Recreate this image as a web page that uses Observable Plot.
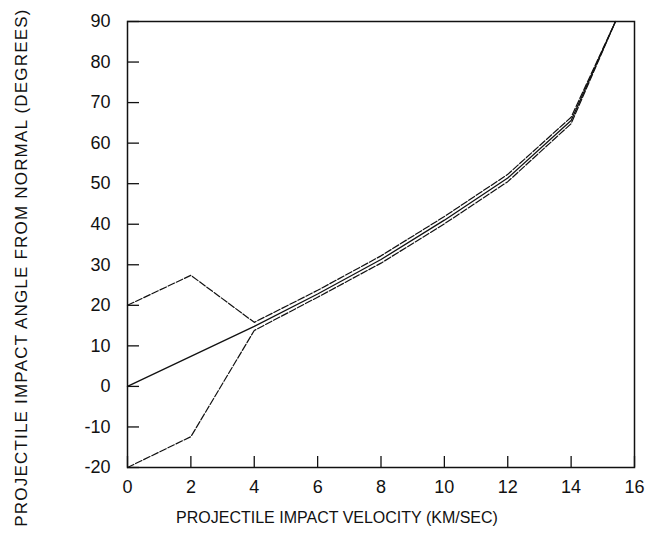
<!DOCTYPE html>
<html><head><meta charset="utf-8">
<script src="https://cdn.jsdelivr.net/npm/d3@7"></script>
<script src="https://cdn.jsdelivr.net/npm/@observablehq/plot@0.6"></script>
<style>html,body{margin:0;padding:0;background:#fff} svg{display:block}</style>
</head><body><div id="chart"></div>
<script>
// Data
const velocity    = [0, 2, 4, 6, 8, 10, 12, 14, 15.4];
const upperAngle  = [20, 27.4, 15.8, 23.7, 32.2, 41.9, 52.3, 66.4, 90];
const middleAngle = [0, 7.4, 14.8, 22.8, 31.3, 41.0, 51.4, 65.6, 90];
const lowerAngle  = [-20, -12.4, 13.8, 22.0, 30.4, 40.1, 50.5, 64.8, 90];
const xTicks = [0, 2, 4, 6, 8, 10, 12, 14, 16];
const yTicks = [-20, -10, 0, 10, 20, 30, 40, 50, 60, 70, 80, 90];
const xTitle = "PROJECTILE IMPACT VELOCITY (KM/SEC)";
const yTitle = "PROJECTILE IMPACT ANGLE FROM NORMAL (DEGREES)";

const rows = s => velocity.map((v, i) => ({v, a: s[i]}));
const ink = "#111";
const fmt = d => String(d);

const chart = Plot.plot({
  width: 658,
  height: 540,
  marginLeft: 127,
  marginRight: 24,
  marginTop: 21,
  marginBottom: 73,
  style: {fontFamily: "'Liberation Sans', Arial, sans-serif", fontSize: "18px", color: ink, background: "#fff"},
  x: {domain: [0, 16], axis: null},
  y: {domain: [-20, 90], axis: null},
  marks: [
    Plot.frame({stroke: ink, strokeWidth: 1.5}),
    // inward ticks
    Plot.axisX(xTicks, {anchor: "bottom", tickSize: 11, dy: -11, fill: "none", label: null, stroke: ink, strokeWidth: 1.3}),
    Plot.axisY(yTicks, {anchor: "left", tickSize: 12, dx: 12, fill: "none", label: null, stroke: ink, strokeWidth: 1.3}),
    // tick labels
    Plot.axisX(xTicks, {anchor: "bottom", tickSize: 0, tickPadding: 13, label: null, fill: ink, tickFormat: fmt}),
    Plot.axisY(yTicks, {anchor: "left", tickSize: 0, tickPadding: 17, label: null, fill: ink, tickFormat: fmt}),
    // lines
    Plot.line(rows(upperAngle), {x: "v", y: "a", stroke: ink, strokeWidth: 1.2, strokeDasharray: "7,2"}),
    Plot.line(rows(lowerAngle), {x: "v", y: "a", stroke: ink, strokeWidth: 1.2, strokeDasharray: "7,2"}),
    Plot.line(rows(middleAngle), {x: "v", y: "a", stroke: ink, strokeWidth: 1.3}),
    // axis titles
    Plot.text([xTitle], {frameAnchor: "bottom", textAnchor: "middle", dx: -44, dy: 55, fontSize: 16, fill: ink}),
    Plot.text([yTitle], {frameAnchor: "left", textAnchor: "middle", rotate: -90, dx: -106, dy: 23, fontSize: 17, fill: ink})
  ]
});

d3.select(chart).selectAll("text").filter(function() { return this.textContent === yTitle; })
  .attr("letter-spacing", "1.2px");

document.getElementById("chart").appendChild(chart);
</script>
</body></html>
